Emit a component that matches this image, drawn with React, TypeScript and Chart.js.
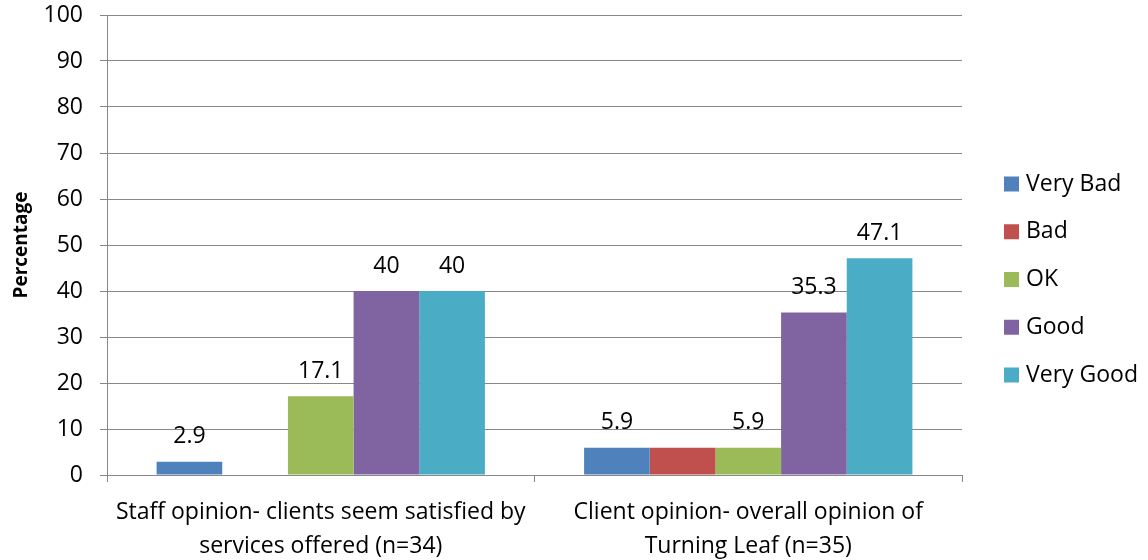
import React, { useEffect, useRef } from "react";
import { Chart, registerables } from "chart.js";

Chart.register(...registerables);

const categories: string[][] = [
  ["Staff opinion- clients seem satisfied by", "services offered (n=34)"],
  ["Client opinion- overall opinion of", "Turning Leaf (n=35)"],
];

const seriesNames = ["Very Bad", "Bad", "OK", "Good", "Very Good"];
const veryBad = [2.9, 5.9];
const bad = [0, 5.9];
const ok = [17.1, 5.9];
const good = [40, 35.3];
const veryGood = [40, 47.1];
const seriesColors = ["#4F81BD", "#C0504D", "#9BBB59", "#8064A2", "#4BACC6"];
const showValueLabels = [true, false, true, true, true];
const yTicks = [0, 10, 20, 30, 40, 50, 60, 70, 80, 90, 100];

const FONT = "'Open Sans', sans-serif";
const FONT_SIZE = 23;
const WIDTH = 1148;
const HEIGHT = 560;

const valueLabelPlugin = {
  id: "valueLabels",
  afterDatasetsDraw(chart: any) {
    const ctx = chart.ctx;
    ctx.save();
    ctx.font = `${FONT_SIZE}px ${FONT}`;
    ctx.fillStyle = "#000";
    ctx.textAlign = "center";
    ctx.textBaseline = "middle";
    chart.data.datasets.forEach((ds: any, di: number) => {
      if (!showValueLabels[di]) return;
      const meta = chart.getDatasetMeta(di);
      meta.data.forEach((el: any, i: number) => {
        const v = ds.data[i];
        if (v === null || v === undefined) return;
        ctx.fillText(String(v), el.x, el.y - 25);
      });
    });
    ctx.restore();
  },
};

const sideLegendPlugin = {
  id: "sideLegend",
  afterDraw(chart: any) {
    const ctx = chart.ctx;
    const mid = chart.height / 2 - 0.5;
    const step = 47.75;
    ctx.save();
    ctx.font = `${FONT_SIZE}px ${FONT}`;
    ctx.textAlign = "left";
    ctx.textBaseline = "middle";
    seriesNames.forEach((name, i) => {
      const cy = mid + (i - (seriesNames.length - 1) / 2) * step;
      ctx.fillStyle = seriesColors[i];
      ctx.fillRect(1004, cy - 7.5, 15, 15);
      ctx.fillStyle = "#000";
      ctx.fillText(name, 1026, cy);
    });
    ctx.restore();
  },
};

export default function App() {
  const ref = useRef<HTMLCanvasElement | null>(null);

  useEffect(() => {
    if (!ref.current) return;
    const seriesValues = [veryBad, bad, ok, good, veryGood];
    const chart = new Chart(ref.current, {
      type: "bar",
      data: {
        labels: categories,
        datasets: seriesNames.map((name, i) => ({
          label: name,
          data: seriesValues[i],
          backgroundColor: seriesColors[i],
          borderWidth: 0,
          barPercentage: 1,
          categoryPercentage: 0.768,
        })),
      },
      options: {
        responsive: false,
        animation: false,
        layout: { padding: { top: 15, right: 186, left: 0, bottom: 0 } },
        plugins: {
          legend: { display: false },
          tooltip: { enabled: false },
        },
        scales: {
          x: {
            grid: {
              offset: true,
              drawOnChartArea: false,
              drawTicks: true,
              tickLength: 7,
              color: "#888",
            },
            border: { color: "#888", width: 1 },
            ticks: {
              color: "#000",
              font: { family: FONT, size: FONT_SIZE, lineHeight: 1.48 },
              padding: 13,
              maxRotation: 0,
              autoSkip: false,
            },
            afterFit(scale: any) {
              scale.height = 85;
              scale.paddingLeft = 0;
              scale.paddingRight = 0;
            },
          },
          y: {
            min: 0,
            max: 100,
            afterBuildTicks(scale: any) {
              scale.ticks = yTicks.map((v) => ({ value: v }));
            },
            grid: { color: "#888", tickLength: 7 },
            border: { color: "#888", width: 1 },
            ticks: {
              color: "#000",
              font: { family: FONT, size: FONT_SIZE },
              padding: 17,
            },
            title: {
              display: true,
              text: "Percentage",
              color: "#000",
              font: { family: FONT, size: 19, weight: "bold" },
              padding: { top: 10, bottom: 0 },
            },
            afterFit(scale: any) {
              scale.width = 107;
              scale.paddingTop = 0;
              scale.paddingBottom = 0;
            },
          },
        },
      },
      plugins: [valueLabelPlugin, sideLegendPlugin],
    });
    return () => chart.destroy();
  }, []);

  return (
    <div
      style={{
        position: "fixed",
        left: 0,
        top: 0,
        width: WIDTH,
        height: HEIGHT,
        background: "#fff",
      }}
    >
      <canvas ref={ref} width={WIDTH} height={HEIGHT} />
    </div>
  );
}
